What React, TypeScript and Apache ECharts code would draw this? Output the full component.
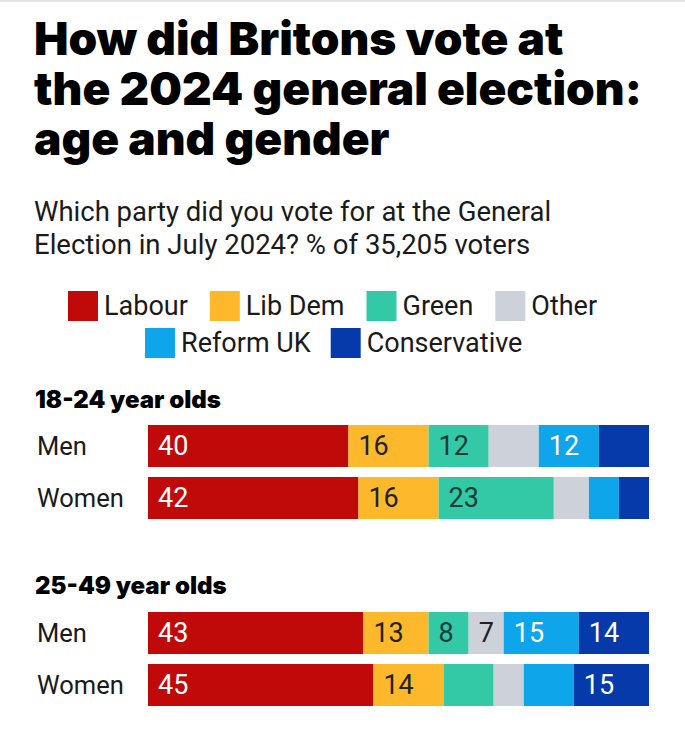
import React, { useEffect, useRef } from "react";
import * as echarts from "echarts";

// ---- Data ----
const parties = ["Labour", "Lib Dem", "Green", "Other", "Reform UK", "Conservative"];
const partyColors = ["#c00a0a", "#fdb92b", "#33c8a6", "#cdd1da", "#0fa5ea", "#063aab"];
const labelColors = ["#ffffff", "#222222", "#1c3d36", "#222222", "#ffffff", "#ffffff"];
const ageGroups = ["18-24 year olds", "25-49 year olds"];
const genders = ["Men", "Women"];
const titleLines = ["How did Britons vote at", "the 2024 general election:", "age and gender"];
const subtitleLines = ["Which party did you vote for at the General", "Election in July 2024? % of 35,205 voters"];

// order of values: [18-24 Men, 18-24 Women, 25-49 Men, 25-49 Women]
const labour = [40, 42, 43, 45];
const libDem = [16, 16, 13, 14];
const green = [12, 23, 8, 10];
const other = [10, 7, 7, 6];
const reformUK = [12, 6, 15, 10];
const conservative = [10, 6, 14, 15];
const partyValues = [labour, libDem, green, other, reformUK, conservative];

// which values are printed on the bars
const labourShown = [true, true, true, true];
const libDemShown = [true, true, true, true];
const greenShown = [true, true, true, false];
const otherShown = [false, false, true, false];
const reformUKShown = [true, false, true, false];
const conservativeShown = [false, false, true, true];
const partyShown = [labourShown, libDemShown, greenShown, otherShown, reformUKShown, conservativeShown];

const BODY_FONT = "Roboto, 'Noto Sans', sans-serif";
const TITLE_FONT = "Inter, 'Noto Sans', sans-serif";

export default function App() {
  const ref = useRef<HTMLDivElement>(null);

  useEffect(() => {
    document.body.style.margin = "0";
    if (!ref.current) return;
    const chart = echarts.init(ref.current, null, { renderer: "svg" });

    const gridTops = [420, 607];
    const grids = gridTops.map((top) => ({ left: 148, right: 36, top, height: 104 }));

    const xAxes = gridTops.map((_, i) => ({
      type: "value",
      gridIndex: i,
      min: 0,
      max: 100,
      show: false,
    }));

    const yAxes = gridTops.map((_, i) => ({
      type: "category",
      gridIndex: i,
      data: genders,
      inverse: true,
      axisLine: { show: false },
      axisTick: { show: false },
      splitLine: { show: false },
      axisLabel: {
        margin: 111,
        align: "left",
        fontFamily: BODY_FONT,
        fontSize: 25.5,
        color: "#1a1a1a",
      },
    }));

    const series: any[] = [];
    ageGroups.forEach((_, g) => {
      parties.forEach((name, p) => {
        const vals = partyValues[p].slice(g * 2, g * 2 + 2);
        const shown = partyShown[p].slice(g * 2, g * 2 + 2);
        series.push({
          type: "bar",
          name,
          xAxisIndex: g,
          yAxisIndex: g,
          stack: "age" + g,
          barWidth: 42,
          itemStyle: { color: partyColors[p] },
          data: vals.map((v, k) => ({
            value: v,
            label: { show: shown[k] },
          })),
          label: {
            show: true,
            position: "insideLeft",
            distance: 10,
            formatter: "{c}",
            fontFamily: BODY_FONT,
            fontSize: 27,
            color: labelColors[p],
          },
          emphasis: { disabled: true },
        });
      });
    });

    const legendText = { fontFamily: BODY_FONT, fontSize: 27, color: "#1a1a1a", padding: [0, 0, 0, 1] };

    const option: any = {
      animation: false,
      backgroundColor: "#ffffff",
      grid: grids,
      xAxis: xAxes,
      yAxis: yAxes,
      legend: [
        {
          data: parties.slice(0, 4),
          left: 63,
          top: 286,
          icon: "rect",
          itemWidth: 30,
          itemHeight: 30,
          itemGap: 22,
          selectedMode: false,
          textStyle: legendText,
        },
        {
          data: parties.slice(4),
          left: 140,
          top: 323,
          icon: "rect",
          itemWidth: 30,
          itemHeight: 30,
          itemGap: 20,
          selectedMode: false,
          textStyle: legendText,
        },
      ],
      graphic: [
        {
          type: "rect",
          shape: { x: 0, y: 0, width: 685, height: 2 },
          style: { fill: "#e4e4ec" },
        },
        ...titleLines.map((t, i) => ({
          type: "text",
          x: 34,
          y: 15 + i * 50,
          style: {
            text: t,
            fontFamily: TITLE_FONT,
            fontWeight: 900,
            fontSize: 46,
            fill: "#000000",
          },
        })),
        ...subtitleLines.map((t, i) => ({
          type: "text",
          x: 34,
          y: 197 + i * 33.5,
          style: {
            text: t,
            fontFamily: BODY_FONT,
            fontSize: 27.5,
            fill: "#1a1a1a",
          },
        })),
        ...ageGroups.map((t, i) => ({
          type: "text",
          x: 35,
          y: [387, 573][i],
          style: {
            text: t,
            fontFamily: TITLE_FONT,
            fontWeight: 900,
            fontSize: 24,
            fill: "#000000",
          },
        })),
      ],
      series,
    };

    chart.setOption(option);
    return () => chart.dispose();
  }, []);

  return <div ref={ref} style={{ width: 685, height: 750 }} />;
}
